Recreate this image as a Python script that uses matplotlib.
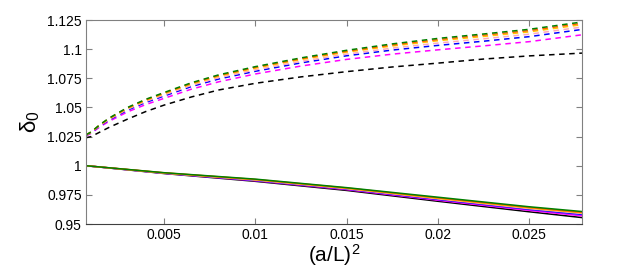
import matplotlib
matplotlib.use("Agg")
import matplotlib.pyplot as plt

plt.rcParams['font.family'] = ['Liberation Sans', 'DejaVu Sans']
plt.rcParams['mathtext.fontset'] = 'custom'
plt.rcParams['mathtext.rm'] = 'Liberation Sans'
plt.rcParams['mathtext.it'] = 'Liberation Sans:italic'

# x values (a/L)^2
x_dash = [0.00072, 0.001, 0.0015, 0.002, 0.003, 0.004, 0.005, 0.0065, 0.008, 0.01,
          0.0125, 0.015, 0.0175, 0.02, 0.0225, 0.025, 0.0279]
x_solid = [0.00072, 0.005, 0.01, 0.015, 0.02, 0.025, 0.0279]

# dashed series
dash_black   = [1.0240, 1.0250, 1.0290, 1.0330, 1.0400, 1.0465, 1.0520, 1.0590, 1.0650, 1.0707,
                1.0762, 1.0807, 1.0847, 1.0880, 1.0915, 1.0942, 1.0966]
dash_magenta = [1.0255, 1.0278, 1.0335, 1.0382, 1.0462, 1.0525, 1.0578, 1.0657, 1.0720, 1.0787,
                1.0855, 1.0912, 1.0957, 1.0994, 1.1028, 1.1064, 1.1123]
dash_blue    = [1.0259, 1.0283, 1.0343, 1.0393, 1.0477, 1.0543, 1.0598, 1.0679, 1.0744, 1.0810,
                1.0882, 1.0943, 1.0992, 1.1032, 1.1068, 1.1107, 1.1169]
dash_pink    = [1.0261, 1.0285, 1.0347, 1.0399, 1.0485, 1.0552, 1.0608, 1.0690, 1.0756, 1.0823,
                1.0896, 1.0958, 1.1009, 1.1052, 1.1089, 1.1128, 1.1190]
dash_yellow  = [1.0263, 1.0288, 1.0351, 1.0404, 1.0492, 1.0561, 1.0618, 1.0701, 1.0768, 1.0837,
                1.0911, 1.0974, 1.1027, 1.1072, 1.1109, 1.1148, 1.1210]
dash_orange  = [1.0264, 1.0289, 1.0353, 1.0407, 1.0496, 1.0566, 1.0623, 1.0707, 1.0774, 1.0844,
                1.0918, 1.0982, 1.1036, 1.1082, 1.1120, 1.1159, 1.1222]
dash_green   = [1.0265, 1.0290, 1.0355, 1.0410, 1.0500, 1.0570, 1.0628, 1.0712, 1.0780, 1.0850,
                1.0925, 1.0990, 1.1045, 1.1092, 1.1130, 1.1170, 1.1233]

# solid series
solid_black   = [1.0, 0.9933, 0.9866, 0.9788, 0.9695, 0.9605, 0.9555]
solid_magenta = [1.0, 0.9935, 0.9871, 0.9795, 0.9704, 0.9617, 0.9570]
solid_blue    = [1.0, 0.9936, 0.9874, 0.9800, 0.9711, 0.9626, 0.9582]
solid_pink    = [1.0, 0.9937, 0.9877, 0.9803, 0.9716, 0.9632, 0.9590]
solid_yellow  = [1.0, 0.9938, 0.9880, 0.9806, 0.9720, 0.9638, 0.9596]
solid_orange  = [1.0, 0.9939, 0.9882, 0.9809, 0.9724, 0.9642, 0.9600]
solid_green   = [1.0, 0.9940, 0.9885, 0.9812, 0.9730, 0.9648, 0.9607]

xticks = [0.005, 0.01, 0.015, 0.02, 0.025]
xticklabels = ['0.005', '0.01', '0.015', '0.02', '0.025']
yticks = [0.95, 0.975, 1.0, 1.025, 1.05, 1.075, 1.1, 1.125]
yticklabels = ['0.95', '0.975', '1', '1.025', '1.05', '1.075', '1.1', '1.125']

colors = {
    'black': 'black',
    'magenta': '#ff00ff',
    'blue': '#0000ff',
    'pink': '#ffa8b8',
    'yellow': '#ffc800',
    'orange': '#ff6000',
    'green': '#008000',
}

dash_series = [('black', dash_black), ('magenta', dash_magenta), ('blue', dash_blue),
               ('pink', dash_pink), ('yellow', dash_yellow), ('orange', dash_orange),
               ('green', dash_green)]
solid_series = [('black', solid_black), ('magenta', solid_magenta), ('blue', solid_blue),
                ('pink', solid_pink), ('yellow', solid_yellow), ('orange', solid_orange),
                ('green', solid_green)]

fig = plt.figure(figsize=(6.44, 2.74), dpi=100)
ax = fig.add_axes([86/644, 1 - 224/274, (582-86)/644, (224-20)/274])

for name, ys in dash_series:
    ax.plot(x_dash, ys, color=colors[name], lw=1.1, dashes=(3.6, 3.0))
for name, ys in solid_series:
    ax.plot(x_solid, ys, color=colors[name], lw=1.1)

ax.set_xlim(0.00072, 0.0279)
ax.set_ylim(0.95, 1.125)
ax.set_xticks(xticks)
ax.set_xticklabels(xticklabels)
ax.set_yticks(yticks)
ax.set_yticklabels(yticklabels)
ax.tick_params(direction='in', length=4, width=0.8, color='#808080',
               top=True, right=True, labelsize=10, pad=3)
for s in ax.spines.values():
    s.set_color('#808080')
    s.set_linewidth(0.8)
ax.spines['bottom'].set_color('#404040')

ax.set_xlabel(r'$\mathregular{(a/L)^2}$', fontsize=15, labelpad=0)
ax.set_ylabel(r'$\mathregular{δ_0}$', fontsize=16, labelpad=4)

fig.savefig('out.png', dpi=100)
